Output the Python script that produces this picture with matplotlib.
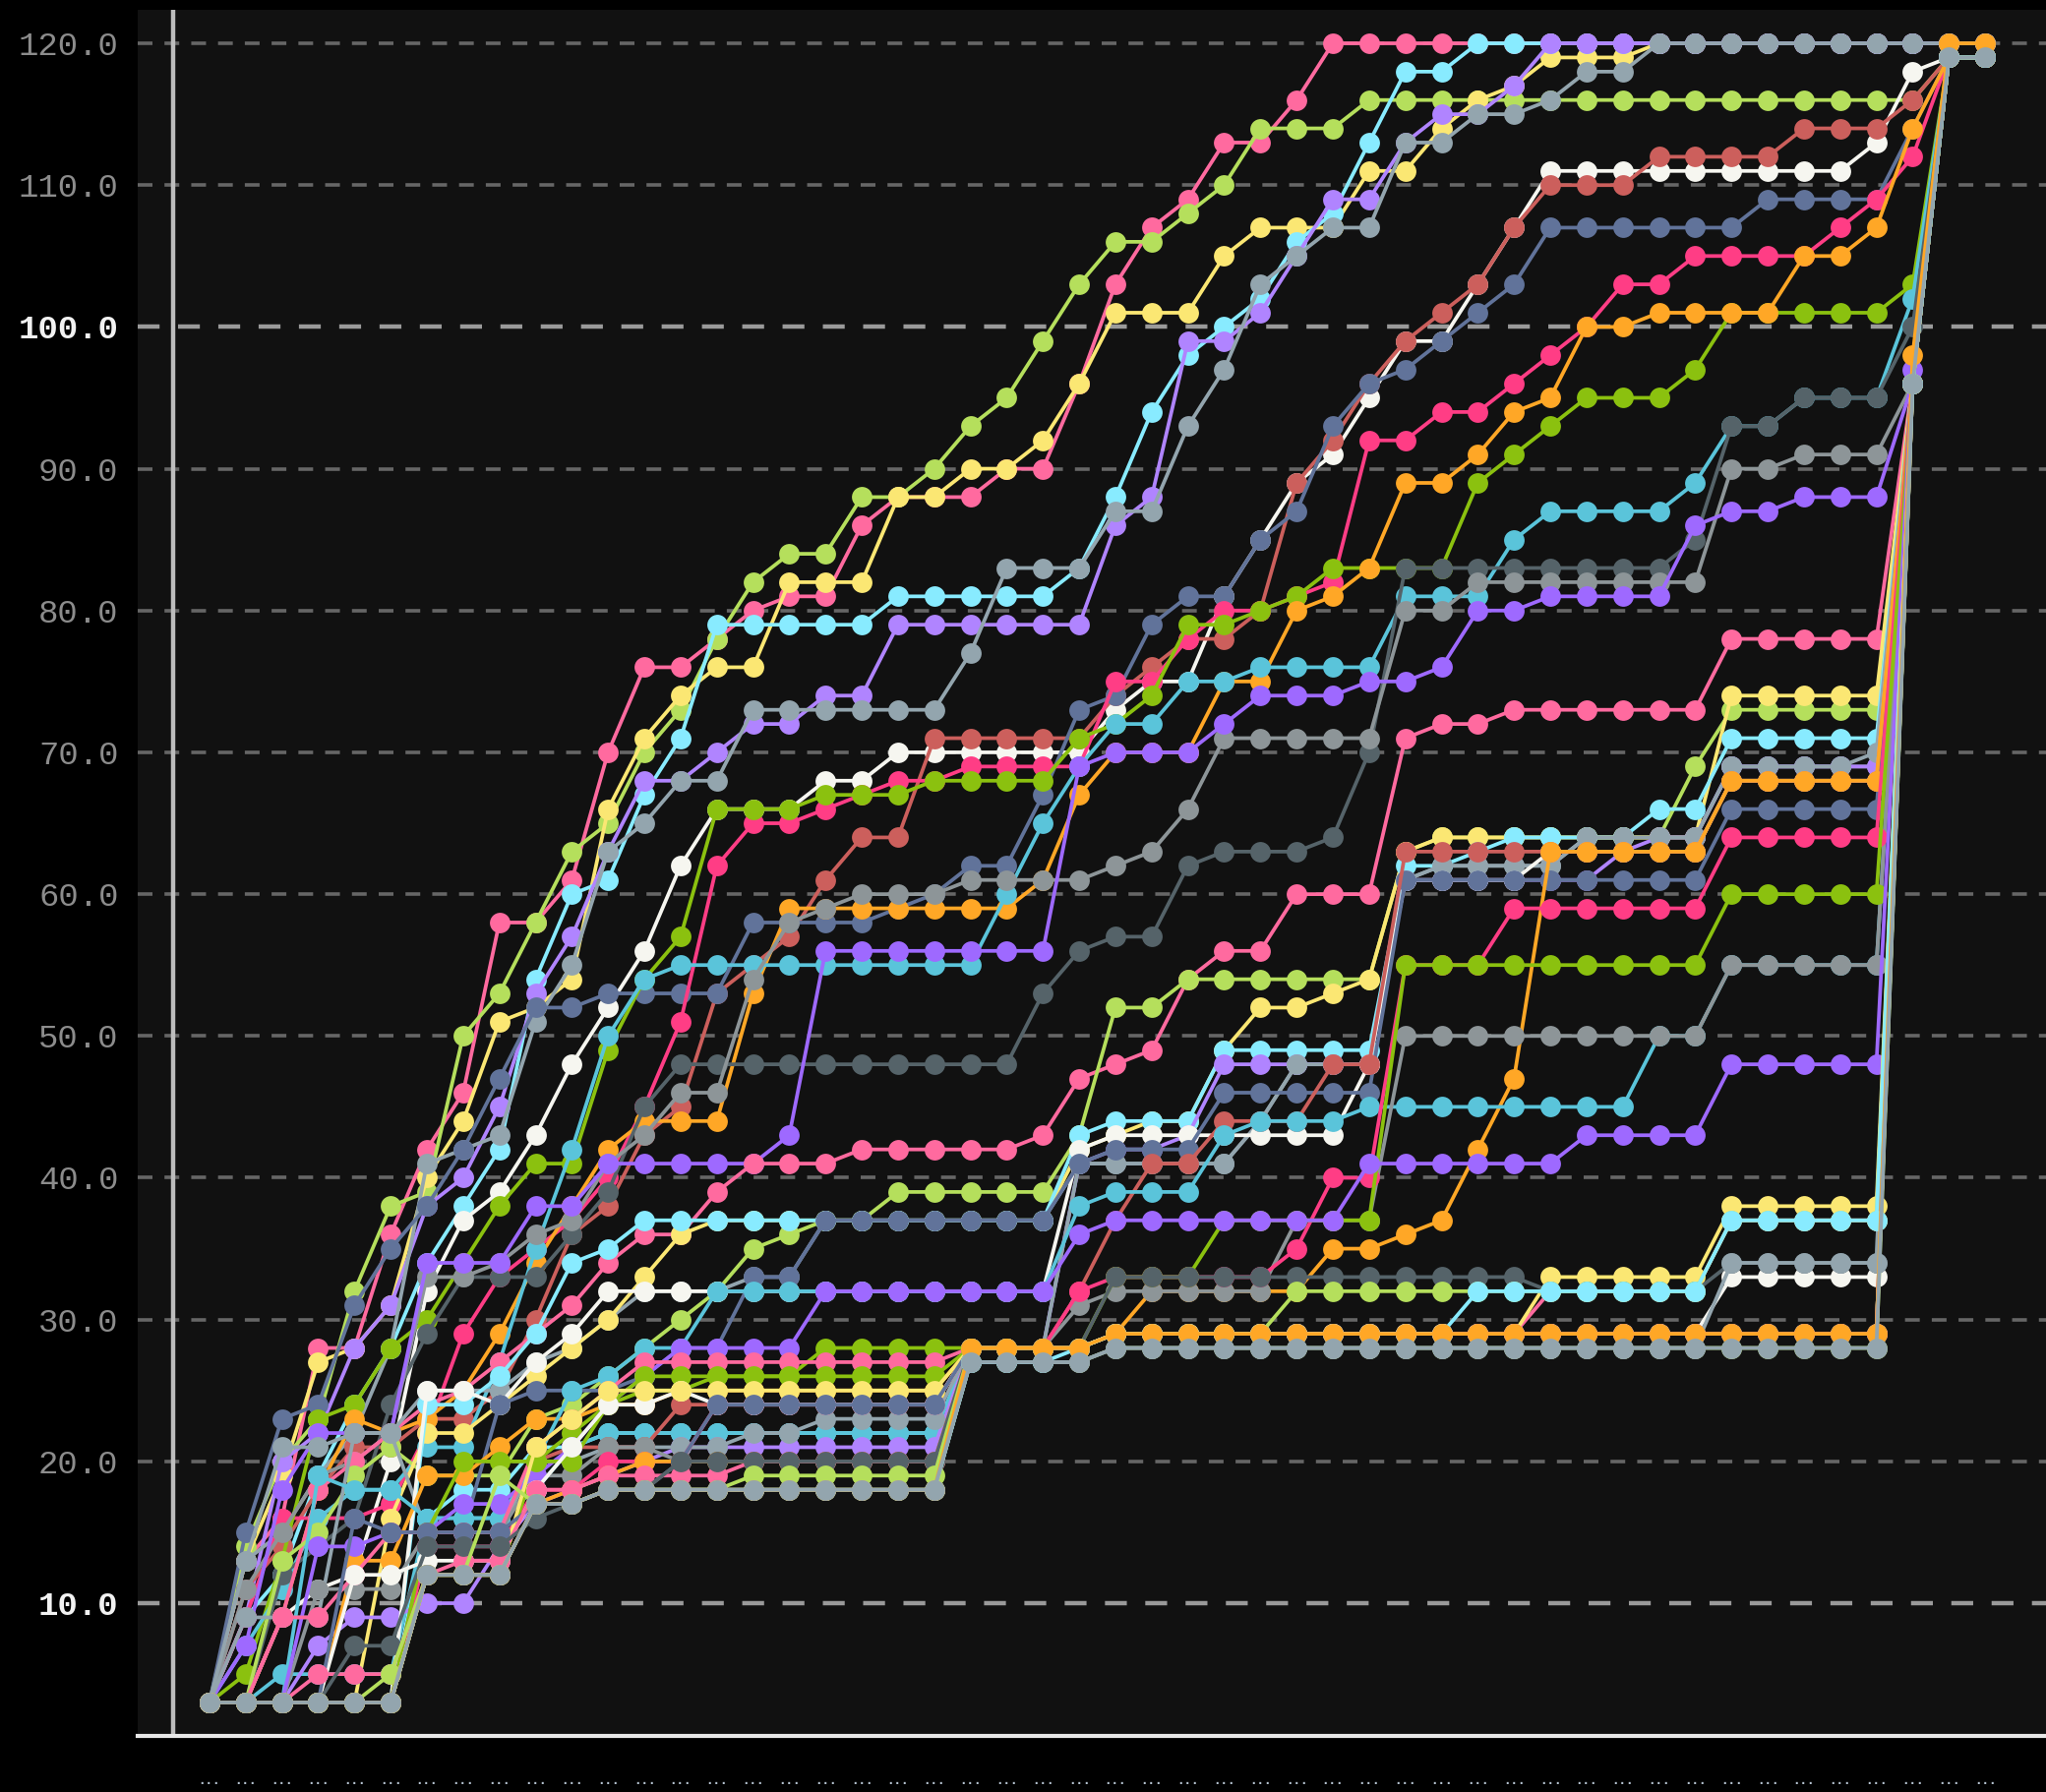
import matplotlib
matplotlib.use("Agg")
import matplotlib.pyplot as plt
import numpy as np

GRAY_BLUE = "#93A5AE"
ORANGE = "#FFA726"
LIME = "#B5DF5C"
HOT_PINK = "#FF3D85"
PINK = "#FF6A9F"
PURPLE = "#9E69FF"
LIGHT_PURPLE = "#B084FF"
TEAL = "#5AC4DA"
CYAN = "#88EBFF"
WHITE = "#F6F6F0"
YELLOW = "#FBE773"
GREEN = "#8BC10F"
RED = "#CC5F5C"
SLATE = "#61739A"
DARK = "#556369"
GRAY = "#8D9598"

y_ticks = [10, 20, 30, 40, 50, 60, 70, 80, 90, 100, 110, 120]
x_labels = ["..."] * 50

pink_top = [3,13,16,28,28,36,42,46,58,58, 61,70,76,76,78,80,81,81,86,88, 88,88,90,90,96,103,107,109,113,113, 116,120,120,120,120,120,120,120,120,120, 120,120,120,120,120,120,120,120,120,120]
lime_top = [3,14,20,23,32,38,39,50,53,58, 63,65,70,73,78,82,84,84,88,88, 90,93,95,99,103,106,106,108,110,114, 114,114,116,116,116,116,116,116,116,116, 116,116,116,116,116,116,116,116,119,119]
yellow_top = [3,13,19,27,28,31,40,44,51,52, 54,66,71,74,76,76,82,82,82,88, 88,90,90,92,96,101,101,101,105,107, 107,107,111,111,114,116,117,119,119,119, 120,120,120,120,120,120,120,120,120,120]
cyan_top = [3,9,12,19,24,28,34,38,42,54, 60,61,67,71,79,79,79,79,79,81, 81,81,81,81,83,88,94,98,100,102, 106,108,113,118,118,120,120,120,120,120, 120,120,120,120,120,120,120,120,120,120]
lilac_top = [3,9,20,22,28,31,38,40,45,53, 57,63,68,68,70,72,72,74,74,79, 79,79,79,79,79,86,88,99,99,101, 105,109,109,113,115,115,117,120,120,120, 120,120,120,120,120,120,120,120,120,120]
blue_top = [3,13,15,19,22,28,41,42,43,51, 55,63,65,68,68,73,73,73,73,73, 73,77,83,83,83,87,87,93,97,103, 105,107,107,113,113,115,115,116,118,118, 120,120,120,120,120,120,120,120,120,120]
white_top = [3,3,9,11,12,20,32,37,39,43, 48,52,56,62,66,66,66,68,68,70, 70,70,70,70,70,73,75,75,81,85, 89,91,95,99,99,103,107,111,111,111, 111,111,111,111,111,111,113,118,119,119]
red_top = [3,11,14,18,21,21,23,23,25,30, 36,38,43,45,53,55,57,61,64,64, 71,71,71,71,71,74,76,78,78,80, 89,92,96,99,101,103,107,110,110,110, 112,112,112,112,114,114,114,116,119,119]
slate_top = [3,15,23,24,31,35,38,42,47,52, 52,53,53,53,53,58,58,58,58,59, 60,62,62,67,73,74,79,81,81,85, 87,93,96,97,99,101,103,107,107,107, 107,107,107,109,109,109,109,114,119,119]
hot_top = [3,9,16,16,16,17,22,29,33,35, 37,40,45,51,62,65,65,66,67,68, 68,69,69,69,69,75,75,78,80,80, 81,82,92,92,94,94,96,98,100,103, 103,105,105,105,105,107,109,112,119,119]
green_top = [3,5,13,23,24,28,30,34,38,41, 41,49,54,57,66,66,66,67,67,67, 68,68,68,68,71,72,74,79,79,80, 81,83,83,83,83,89,91,93,95,95, 95,97,101,101,101,101,101,103,119,119]
orange_top = [3,3,9,18,23,22,23,25,29,34, 38,42,44,44,44,53,59,59,59,59, 59,59,59,61,67,70,70,70,75,75, 80,81,83,89,89,91,94,95,100,100, 101,101,101,101,105,105,107,114,119,119]
teal_top = [3,7,11,16,18,18,21,21,27,35, 42,50,54,55,55,55,55,55,55,55, 55,55,60,65,69,72,72,75,75,76, 76,76,76,81,81,81,85,87,87,87, 87,89,93,93,95,95,95,102,119,119]
dark_top = [3,3,12,14,16,24,29,33,33,33, 36,39,45,48,48,48,48,48,48,48, 48,48,48,53,56,57,57,62,63,63, 63,64,70,83,83,83,83,83,83,83, 83,85,93,93,95,95,95,100,119,119]
gray_top = [3,11,15,19,20,22,33,33,34,36, 37,41,43,46,46,54,58,59,60,60, 60,61,61,61,61,62,63,66,71,71, 71,71,71,80,80,82,82,82,82,82, 82,82,90,90,91,91,91,96,119,119]
purple_top = [3,7,18,22,22,22,34,34,34,38, 38,41,41,41,41,41,43,56,56,56, 56,56,56,56,69,70,70,70,72,74, 74,74,75,75,76,80,80,81,81,81, 81,86,87,87,88,88,88,96,119,119]
pink_mid = [3,3,9,18,20,22,24,25,27,29, 31,34,36,36,39,41,41,41,42,42, 42,42,42,43,47,48,49,54,56,56, 60,60,60,71,72,72,73,73,73,73, 73,73,78,78,78,78,78,96,119,119]
blue_hidden = [3,13,21,21,22,22,25,25,25,27, 28,30,32,32,32,33,33,37,37,37, 37,37,37,37,41,41,41,41,41,44, 48,48,48,61,62,62,62,62,64,64, 64,64,69,69,69,69,69,96,119,119]
lime_mid = [3,3,13,15,19,21,19,19,19,23, 24,26,28,30,32,35,36,37,37,39, 39,39,39,39,43,52,52,54,54,54, 54,54,54,63,64,64,64,64,64,64, 64,69,73,73,73,73,73,96,119,119]
yellow_mid = [3,3,3,3,3,16,22,22,24,26, 28,30,33,36,37,37,37,37,37,37, 37,37,37,37,42,43,44,44,49,52, 52,53,54,63,64,64,64,64,64,64, 64,64,74,74,74,74,74,96,119,119]
cyan_mid = [3,3,3,3,3,3,24,24,26,29, 34,35,37,37,37,37,37,37,37,37, 37,37,37,37,43,44,44,44,49,49, 49,49,49,62,62,63,64,64,64,64, 66,66,71,71,71,71,71,96,119,119]
cyan_low2 = [3,3,3,3,3,3,16,18,18,21, 21,22,22,22,22,22,22,22,22,22, 22,28,28,28,28,29,29,29,29,29, 29,29,29,29,29,29,29,29,29,29, 29,29,29,29,29,29,29,96,119,119]
teal_row = [3,3,5,5,5,5,16,16,16,18, 21,22,22,22,22,22,22,22,22,22, 22,28,28,28,28,29,29,29,29,29, 29,29,29,29,29,29,29,29,29,29, 29,29,29,29,29,29,29,96,119,119]
purple_row = [3,3,3,7,9,9,10,10,14,17, 18,19,20,21,21,21,21,21,21,21, 21,28,28,28,41,42,42,43,48,48, 48,48,48,61,61,61,61,61,61,63, 64,64,69,69,69,69,69,96,119,119]
blue_row = [3,9,9,9,22,22,15,15,15,20, 20,21,21,21,21,22,22,23,23,23, 23,28,28,28,41,41,41,41,41,44, 48,48,48,61,62,62,62,62,64,64, 64,64,69,69,69,69,70,96,119,119]
white_mid = [3,3,3,3,3,3,25,25,24,27, 29,32,32,32,32,32,32,32,32,32, 32,32,32,32,42,43,43,43,43,43, 43,43,48,61,61,61,61,63,63,63, 63,63,68,68,68,68,68,96,119,119]
slate_mid = [3,3,3,3,3,3,15,15,24,25, 25,25,26,28,28,33,33,37,37,37, 37,37,37,37,41,42,42,42,46,46, 46,46,46,61,61,61,61,61,61,61, 61,61,66,66,66,66,66,96,119,119]
red_mid = [3,3,3,3,3,3,12,12,12,20, 21,21,21,24,24,24,24,24,24,24, 24,28,28,28,32,37,41,41,44,44, 44,48,48,63,63,63,63,63,63,63, 63,63,68,68,68,68,68,96,119,119]
orange_mid = [3,3,3,3,13,13,19,19,21,23, 23,24,24,25,25,25,25,25,25,25, 25,28,28,28,28,29,32,32,32,32, 32,35,35,36,37,42,47,63,63,63, 63,63,68,68,68,68,68,96,119,119]
teal_mid = [3,3,3,19,18,18,16,16,16,20, 25,26,28,28,32,32,32,32,32,32, 32,32,32,32,38,39,39,39,43,44, 44,44,45,45,45,45,45,45,45,45, 50,50,55,55,55,55,55,96,119,119]
gray_mid = [3,3,3,11,11,11,15,15,15,19, 19,21,21,20,20,20,20,20,20,20, 20,28,28,28,31,32,32,32,32,32, 37,37,37,50,50,50,50,50,50,50, 50,50,55,55,55,55,55,96,119,119]
hot_mid = [3,3,3,3,3,3,14,14,14,18, 18,20,20,20,24,24,24,24,24,24, 24,28,28,28,32,33,33,33,33,33, 35,40,40,55,55,55,59,59,59,59, 59,59,64,64,64,64,64,96,119,119]
green_mid = [3,3,3,3,3,3,12,12,12,20, 22,24,25,25,26,26,26,28,28,28, 28,28,28,28,28,33,33,33,37,37, 37,37,37,55,55,55,55,55,55,55, 55,55,60,60,60,60,60,96,119,119]
purple_mid = [3,3,3,14,14,15,15,17,17,19, 21,24,26,28,28,28,28,32,32,32, 32,32,32,32,36,37,37,37,37,37, 37,37,41,41,41,41,41,41,43,43, 43,43,48,48,48,48,48,97,119,119]
pink_row = [3,3,9,9,12,15,15,15,15,21, 23,25,27,27,27,27,27,27,27,27, 27,28,28,28,28,29,29,29,29,29, 29,29,29,29,29,29,29,32,32,32, 32,32,37,37,37,37,37,96,119,119]
green_row = [3,3,3,3,3,3,15,20,20,20, 20,24,26,26,26,26,26,26,26,26, 26,28,28,28,28,29,29,29,29,29, 29,29,29,29,29,29,29,29,29,29, 29,29,29,29,29,29,29,96,119,119]
orange_row = [3,3,3,3,3,3,12,12,12,17, 18,19,20,20,20,20,20,20,20,20, 20,28,28,28,28,29,29,29,29,29, 29,29,29,29,29,29,29,29,29,29, 29,29,29,29,29,29,29,96,119,119]
white_row = [3,3,3,3,12,12,13,13,13,18, 21,24,24,25,24,24,24,24,24,24, 24,28,28,28,28,29,29,29,29,29, 29,29,29,29,29,29,29,29,29,29, 29,29,33,33,33,33,33,96,119,119]
yellow_row = [3,3,3,3,3,3,12,12,12,21, 23,25,25,25,25,25,25,25,25,25, 25,28,28,28,28,29,29,29,29,29, 29,29,29,29,29,29,29,33,33,33, 33,33,38,38,38,38,38,96,119,119]
slate_row = [3,3,3,3,16,15,15,15,15,17, 17,18,18,20,24,24,24,24,24,24, 24,28,28,28,28,29,29,29,29,29, 29,29,29,29,29,29,29,29,29,29, 29,29,29,29,29,29,29,96,119,119]
pink_low = [3,3,3,5,5,5,12,13,13,18, 18,19,19,19,19,20,20,20,20,20, 20,28,28,28,28,29,29,29,29,29, 29,29,29,29,29,29,29,29,29,29, 29,29,29,29,29,29,29,96,119,119]
dark_row = [3,3,3,3,7,7,14,14,14,16, 17,18,18,20,20,20,20,20,20,20, 20,28,28,28,28,33,33,33,33,33, 33,33,33,33,33,33,33,32,32,32, 32,32,34,34,34,34,34,96,119,119]
lime_row = [3,3,3,3,3,3,12,12,19,17, 17,18,18,18,18,19,19,19,19,19, 19,28,28,28,28,29,29,29,29,29, 32,32,32,32,32,32,32,32,32,32, 32,32,37,37,37,37,37,96,119,119]
lime_low = [3,3,3,3,3,5,12,12,12,17, 17,18,18,18,18,18,18,18,18,18, 18,27,27,27,27,28,28,28,28,28, 28,28,28,28,28,28,28,28,28,28, 28,28,28,28,28,28,28,96,119,119]
blue_low2 = [3,3,3,3,3,3,12,12,12,17, 17,18,18,18,18,18,18,18,18,18, 18,27,27,27,27,28,28,28,28,28, 28,28,28,28,28,28,28,28,28,28, 28,28,34,34,34,34,34,96,119,119]
cyan_low = [3,3,3,3,3,3,12,12,12,17, 17,18,18,18,18,18,18,18,18,18, 18,27,27,27,28,29,29,29,29,29, 29,29,29,29,29,32,32,32,32,32, 32,32,37,37,37,37,37,96,119,119]
orange_low = [3,3,3,3,3,3,12,12,12,17, 17,18,18,18,18,18,18,18,18,18, 18,28,28,28,28,29,29,29,29,29, 29,29,29,29,29,29,29,29,29,29, 29,29,29,29,29,29,29,98,120,120]
blue_low = [3,3,3,3,3,3,12,12,12,17, 17,18,18,18,18,18,18,18,18,18, 18,27,27,27,27,28,28,28,28,28, 28,28,28,28,28,28,28,28,28,28, 28,28,28,28,28,28,28,96,119,119]

# drawn in this order, later ones sit on top
series = [
    (pink_top, PINK), (lime_top, LIME), (yellow_top, YELLOW), (cyan_top, CYAN),
    (lilac_top, LIGHT_PURPLE), (blue_top, GRAY_BLUE), (white_top, WHITE), (red_top, RED),
    (slate_top, SLATE), (hot_top, HOT_PINK), (green_top, GREEN), (orange_top, ORANGE),
    (teal_top, TEAL), (dark_top, DARK), (gray_top, GRAY), (purple_top, PURPLE),
    (pink_mid, PINK), (blue_hidden, GRAY_BLUE), (lime_mid, LIME), (yellow_mid, YELLOW),
    (cyan_mid, CYAN), (cyan_low2, CYAN), (teal_row, TEAL), (purple_row, LIGHT_PURPLE),
    (blue_row, GRAY_BLUE), (white_mid, WHITE), (slate_mid, SLATE), (red_mid, RED),
    (orange_mid, ORANGE), (teal_mid, TEAL), (gray_mid, GRAY), (hot_mid, HOT_PINK),
    (green_mid, GREEN), (purple_mid, PURPLE), (pink_row, PINK), (green_row, GREEN),
    (orange_row, ORANGE), (white_row, WHITE), (yellow_row, YELLOW), (slate_row, SLATE),
    (pink_low, PINK), (dark_row, DARK), (lime_row, LIME), (lime_low, LIME),
    (blue_low2, GRAY_BLUE), (cyan_low, CYAN), (orange_low, ORANGE), (blue_low, GRAY_BLUE),
]

plt.rcParams["lines.scale_dashes"] = False

fig = plt.figure(figsize=(20.8, 18.22), dpi=100, facecolor="black")
ax = fig.add_axes([140 / 2080, 1 - 1765 / 1822, 1940 / 2080, 1755 / 1822], facecolor="#111111")

for y in y_ticks:
    if y in (10, 100):
        ax.axhline(y, color="#9A9A9A", lw=3.2, ls=(0, (16, 13.5)), dash_capstyle="butt", zorder=1)
    else:
        ax.axhline(y, color="#666666", lw=2.6, ls=(0, (10.8, 8.8)), dash_capstyle="butt", zorder=1)

xs = np.arange(len(x_labels))
for values, color in series:
    ax.plot(xs, values, color=color, lw=2.7, marker="o", ms=15, mew=0, zorder=3,
            solid_joinstyle="round", clip_on=False)

ax.set_xlim(-1.98, 50.68)
ax.set_ylim(0.64, 122.36)

ax.axvline(-1, color="#BDBDBD", lw=3.2, zorder=2)

for side in ("top", "right", "left"):
    ax.spines[side].set_visible(False)
ax.spines["bottom"].set_color("#E8E8E8")
ax.spines["bottom"].set_linewidth(3)

ax.set_yticks(y_ticks)
ax.set_yticklabels([f"{y:.1f}" for y in y_ticks], family="Liberation Mono", fontsize=24.5)
ax.tick_params(axis="y", length=0, pad=14)
for y, label in zip(y_ticks, ax.get_yticklabels()):
    if y in (10, 100):
        label.set_color("#F2F2F2")
        label.set_fontweight("bold")
    else:
        label.set_color("#8C8C8C")

ax.set_xticks(xs)
ax.set_xticklabels(x_labels, family="DejaVu Sans Mono", fontsize=9, fontweight="bold", color="#B4C2D0")
ax.tick_params(axis="x", length=0, pad=28)

fig.savefig("out.png", dpi=100, facecolor="black")
